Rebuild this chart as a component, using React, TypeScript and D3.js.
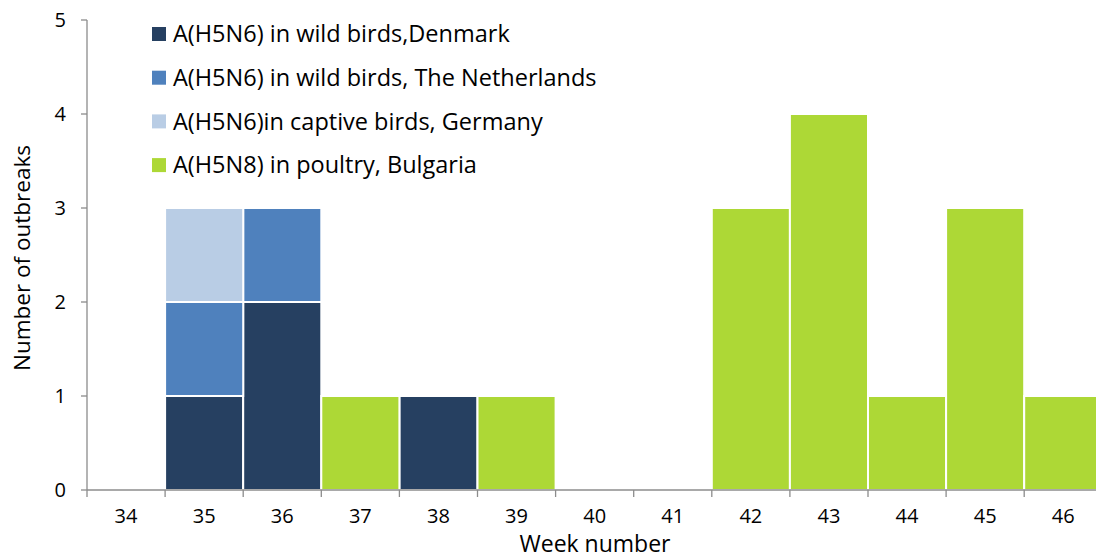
import React from "react";
import * as d3 from "d3";

const weeks = ["34","35","36","37","38","39","40","41","42","43","44","45","46"];
const seriesNames = [
  "A(H5N6) in wild birds,Denmark",
  "A(H5N6) in wild birds, The Netherlands",
  "A(H5N6)in captive birds, Germany",
  "A(H5N8) in poultry, Bulgaria",
];
const denmark =     [0,1,2,0,1,0,0,0,0,0,0,0,0];
const netherlands = [0,1,1,0,0,0,0,0,0,0,0,0,0];
const germany =     [0,1,0,0,0,0,0,0,0,0,0,0,0];
const bulgaria =    [0,0,0,1,0,1,0,0,3,4,1,3,1];
const colors = ["#264061", "#4f81bd", "#b9cde5", "#add836"];
const yTicks = [0,1,2,3,4,5];

export default function App() {
  const W = 1096, H = 558;
  const left = 87, bottom = 490, top = 20;
  const x = d3.scaleBand().domain(weeks).range([left, left + 13 * 78.1]).padding(0);
  const y = d3.scaleLinear().domain([0, 5]).range([bottom, top]);
  const table = weeks.map((w, i) => ({ week: w, s0: denmark[i], s1: netherlands[i], s2: germany[i], s3: bulgaria[i] }));
  const stack = d3.stack<any>().keys(["s0","s1","s2","s3"])(table);
  const font = "'Open Sans', 'DejaVu Sans', sans-serif";
  const axisColor = "#8c8c8c";
  return (
    <svg width={W} height={H} style={{ position: "absolute", left: 0, top: 0, fontFamily: font }}>
      <rect width={W} height={H} fill="#fff" />
      {stack.map((layer, si) => (
        <g key={si} fill={colors[si]}>
          {layer.map((d, i) => d[1] - d[0] > 0 ? (
            <rect key={i} x={x(weeks[i])!} y={y(d[1])} width={x.bandwidth()} height={y(d[0]) - y(d[1])}
              stroke="#fff" strokeWidth={2} />
          ) : null)}
        </g>
      ))}
      {/* y axis */}
      <line x1={left} x2={left} y1={top} y2={bottom} stroke={axisColor} strokeWidth={1.3} />
      {yTicks.map(t => (
        <g key={t}>
          <line x1={left - 6} x2={left} y1={y(t)} y2={y(t)} stroke={axisColor} strokeWidth={1.3} />
          <text x={66} y={y(t)} dy="0.35em" textAnchor="end" fontSize={20} fill="#000">{t}</text>
        </g>
      ))}
      {/* x axis */}
      <line x1={left} x2={W} y1={bottom} y2={bottom} stroke={axisColor} strokeWidth={1.3} />
      {weeks.map((w, i) => (
        <g key={w}>
          <line x1={x(w)!} x2={x(w)!} y1={bottom} y2={bottom + 7} stroke={axisColor} strokeWidth={1.3} />
          <text x={x(w)! + x.bandwidth() / 2} y={516} dy="0.35em" textAnchor="middle" fontSize={20} fill="#000">{w}</text>
        </g>
      ))}
      <text x={595} y={544} dy="0.35em" textAnchor="middle" fontSize={23} fill="#000">Week number</text>
      <text transform={`translate(22,258) rotate(-90)`} dy="0.35em" textAnchor="middle" fontSize={22.5} fill="#000">Number of outbreaks</text>
      {/* legend */}
      {seriesNames.map((n, i) => (
        <g key={n} transform={`translate(152, ${34 + i * 43.7})`}>
          <rect x={0} y={-7} width={14} height={14} fill={colors[i]} />
          <text x={21} y={0} dy="0.35em" fontSize={23.5} fill="#000">{n}</text>
        </g>
      ))}
    </svg>
  );
}
